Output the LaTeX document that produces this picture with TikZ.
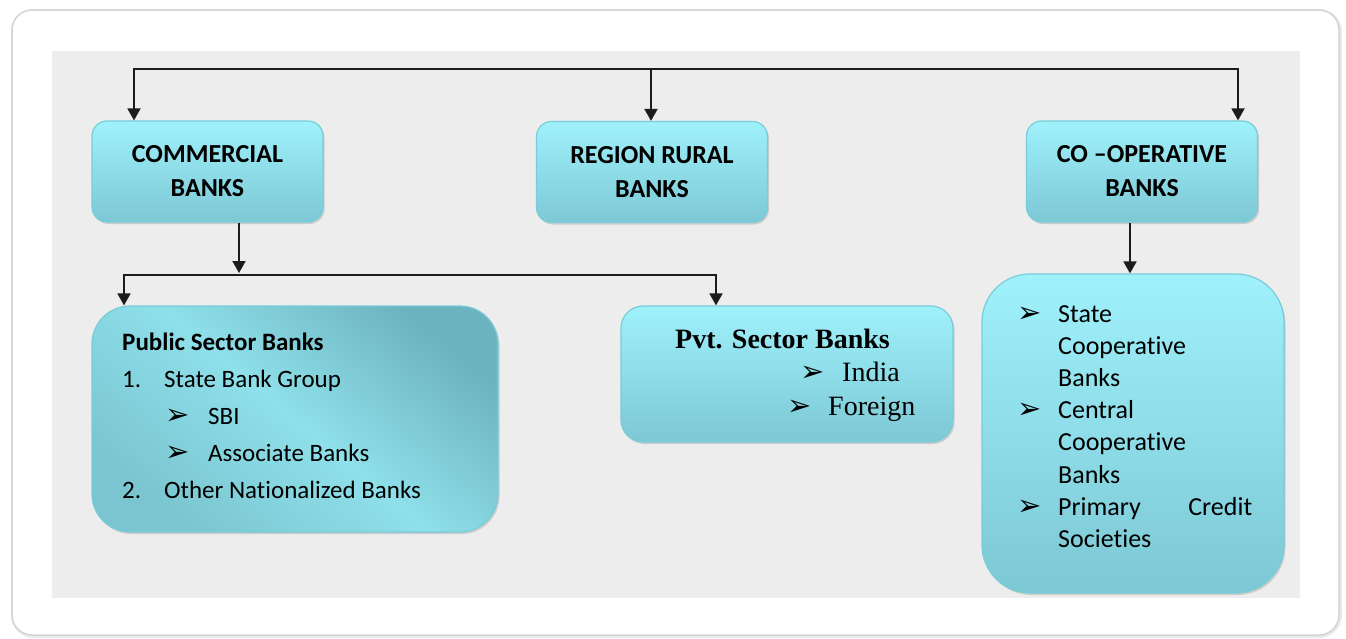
\documentclass[tikz,border=0pt]{standalone}
\usepackage{fontspec}
\setmainfont[Ligatures=NoCommon]{Carlito}
\newfontfamily\timesfont{Liberation Serif}
\newfontfamily\symfont{DejaVu Sans}
\usetikzlibrary{arrows.meta,shadows}

\definecolor{panelgray}{HTML}{EDEDED}
\definecolor{cardline}{HTML}{D4D4D4}
\definecolor{boxtop}{HTML}{9FF1FC}
\definecolor{boxbottom}{HTML}{7CC8D4}
\definecolor{boxline}{HTML}{78CDD9}
\definecolor{boxdark}{HTML}{6DB3BF}
\definecolor{boxlight}{HTML}{8EE0EA}
\definecolor{linkcol}{HTML}{1C1C1C}

% arrow bullet
\newcommand{\bul}{{\symfont\fontsize{29}{29}\selectfont ➢}}

\tikzset{
  bankbox/.style={draw=boxline, line width=1.2pt, top color=boxtop,
    bottom color=boxbottom, inner sep=0pt,
    drop shadow={opacity=0.3, shadow xshift=1.5pt, shadow yshift=-2pt}},
  headbox/.style={bankbox, rounded corners=15pt, minimum width=231pt,
    minimum height=101pt, align=center,
    font=\fontsize{26}{34}\selectfont\bfseries},
  listtext/.style={anchor=base west, inner sep=0pt},
  flow/.style={draw=linkcol, line width=1.8pt,
    -{Triangle[width=13pt,length=12pt]}},
}

\begin{document}
\begin{tikzpicture}[x=1pt,y=-1pt]
    \useasboundingbox (0,0) rectangle (1346,638);

    % Card and grey panel
    \draw[cardline!50, line width=4pt, rounded corners=21pt] (13,11) rectangle (1340,636);
    \draw[cardline, line width=1.5pt, fill=white, rounded corners=20pt] (12,10) rectangle (1339,635);
    \fill[panelgray] (52,51) rectangle (1300,598);

    % Top row
    \node[headbox] (commercial) at (207.5,171.5) {COMMERCIAL\\BANKS};
    \node[headbox] (rural) at (652,172) {REGION RURAL\\BANKS};
    \node[headbox] (coop) at (1142,171.5) {CO –OPERATIVE\\BANKS};

    % Lower boxes
    \node[bankbox, rounded corners=38pt, minimum width=406pt, minimum height=226pt,
          top color=boxdark, bottom color=boxdark!60!boxlight, middle color=boxlight,
          shading angle=-40] (public) at (295,419) {};
    \node[bankbox, rounded corners=22pt, minimum width=332pt,
          minimum height=136pt] (pvt) at (787,374) {};
    \node[bankbox, rounded corners=48pt, minimum width=302pt,
          minimum height=319pt] (cooplist) at (1133,433.5) {};

    % Box texts
    \node[listtext, font=\fontsize{25}{37}\selectfont] (publictext) at (122,350) {%
        \begin{tabular}[t]{@{}l@{}}
            \textbf{Public Sector Banks}\\
            \makebox[42pt][l]{1.}State Bank Group\\
            \hspace*{43pt}\makebox[43pt][l]{\bul}SBI\\
            \hspace*{43pt}\makebox[43pt][l]{\bul}Associate Banks\\
            \makebox[42pt][l]{2.}Other Nationalized Banks
        \end{tabular}};
    \node[listtext, font=\timesfont\fontsize{28}{33.5}\selectfont] (pvttext) at (675,348) {%
        \begin{tabular}[t]{@{}l@{}}
            \textbf{Pvt. Sector Banks}\\
            \hspace*{125pt}\makebox[42pt][l]{\bul}India\\
            \hspace*{112pt}\makebox[41pt][l]{\bul}Foreign
        \end{tabular}};
    \node[listtext, font=\fontsize{26}{32.2}\selectfont] (cooptext) at (1017,322) {%
        \begin{tabular}[t]{@{}p{41pt}@{}l@{}}
            \bul & State\\
                 & Cooperative\\
                 & Banks\\
            \bul & Central\\
                 & Cooperative\\
                 & Banks\\
            \bul & \makebox[194pt][s]{Primary\hfill Credit}\\
                 & Societies
        \end{tabular}};

    % Top bar
    \coordinate (topbar) at (651,69);
    \draw[flow] (topbar) -- (topbar |- rural.north);
    \draw[flow] (topbar) -| ([xshift=-73.5pt]commercial.north);
    \draw[flow] (topbar) -| ([xshift=96pt]coop.north);

    % Commercial banks split
    \coordinate (split) at (239,275);
    \draw[flow] ([xshift=31.5pt]commercial.south) -- ([yshift=2pt]split);
    \draw[flow] (split) -| ([xshift=-171pt]public.north);
    \draw[flow] (split) -| ([xshift=-71pt]pvt.north);

    % Co-operative banks
    \draw[flow] ([xshift=-12pt]coop.south) -- ([xshift=-12pt]coop.south |- cooplist.north);
\end{tikzpicture}
\end{document}
